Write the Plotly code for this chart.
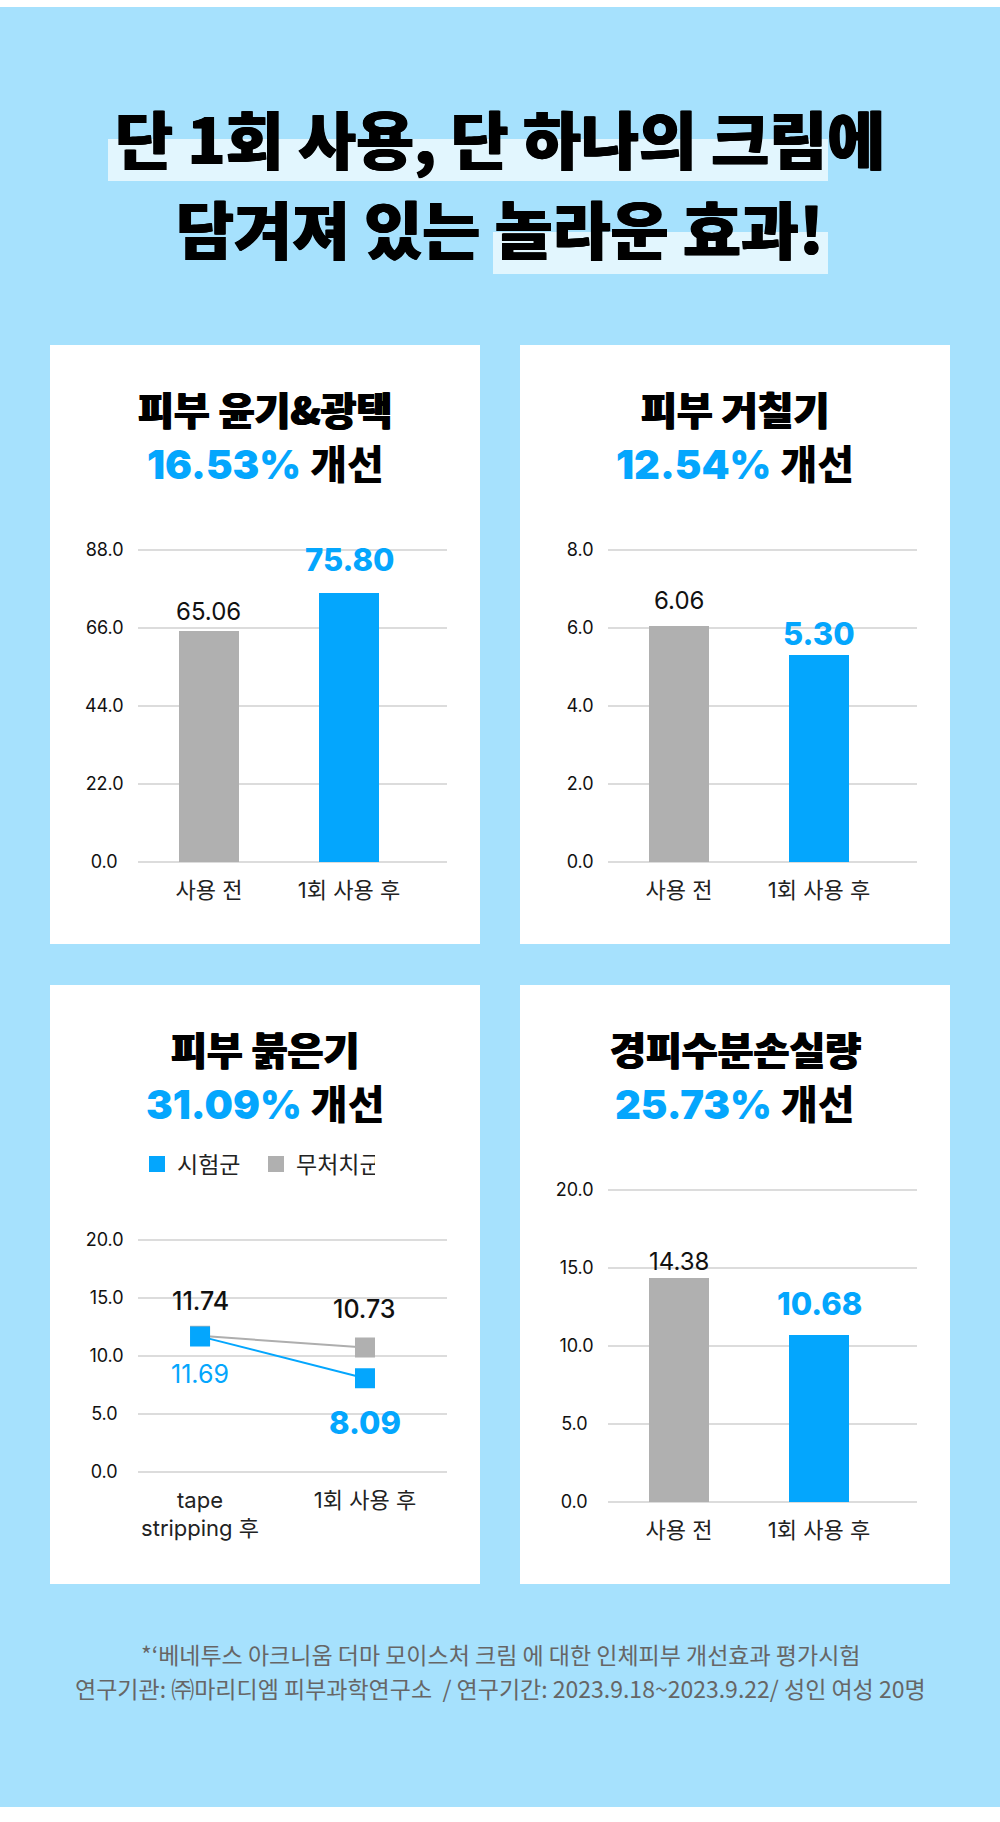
import plotly.graph_objects as go

# ---------------- data ----------------
main_title_1 = "단 1회 사용, 단 하나의 크림에"
main_title_2 = "담겨져 있는 놀라운 효과!"

bar_categories = ["사용 전", "1회 사용 후"]

gloss_title = "피부 윤기&광택"
gloss_improve = "16.53%"
gloss_values = [65.06, 75.80]
gloss_ticks = [0, 22, 44, 66, 88]

rough_title = "피부 거칠기"
rough_improve = "12.54%"
rough_values = [6.06, 5.30]
rough_ticks = [0, 2, 4, 6, 8]

red_title = "피부 붉은기"
red_improve = "31.09%"
red_categories = ["tape<br>stripping 후", "1회 사용 후"]
red_test = [11.69, 8.09]
red_control = [11.74, 10.73]
red_ticks = [0, 5, 10, 15, 20]
red_series_names = ["시험군", "무처치군"]

tewl_title = "경피수분손실량"
tewl_improve = "25.73%"
tewl_values = [14.38, 10.68]
tewl_ticks = [0, 5, 10, 15, 20]

improve_word = "개선"

footnote_1 = "*‘베네투스 아크니움 더마 모이스처 크림 에 대한 인체피부 개선효과 평가시험"
footnote_2 = "연구기관: ㈜마리디엠 피부과학연구소 \u00a0/ 연구기간: 2023.9.18~2023.9.22/ 성인 여성 20명"

# ---------------- style ----------------
W, H = 1000, 1822
BLUE = "#04A6FD"
GREY = "#B0B0B0"
LINE_GREY = "#AEAEAE"
BG = "#A6E1FD"
HILITE = "#E2F6FE"
GRID = "#DCDCDC"
KR = "Noto Sans CJK KR"
NUM = "Inter, Noto Sans CJK KR"
HEAVY = "0.7px 0 0 #000, -0.7px 0 0 #000"


def py(p):
    return 1 - p / H


def tick_texts(ticks):
    labels = [f"{v:.1f}" for v in ticks]
    longest = max(len(s) for s in labels)
    # pad shorter labels so the labels look centred in their column
    return [s + "\u2006\u2006" * (longest - len(s)) for s in labels]


fig = go.Figure()
shapes = []
annotations = []
layout = {}

# background
shapes.append(dict(type="rect", xref="paper", yref="paper", x0=0, x1=1, y0=py(1807), y1=py(7),
                   fillcolor=BG, line_width=0, layer="below"))
# title highlights
shapes.append(dict(type="rect", xref="paper", yref="paper", x0=108 / W, x1=828 / W, y0=py(181), y1=py(139),
                   fillcolor=HILITE, line_width=0, layer="below"))
shapes.append(dict(type="rect", xref="paper", yref="paper", x0=493 / W, x1=828 / W, y0=py(274), y1=py(232),
                   fillcolor=HILITE, line_width=0, layer="below"))

annotations.append(dict(text=main_title_1, x=0.5, y=py(137), xref="paper", yref="paper", showarrow=False,
                        xanchor="center", yanchor="middle",
                        font=dict(family=KR, size=63, color="#000", weight=900, shadow=HEAVY)))
annotations.append(dict(text=main_title_2, x=0.5, y=py(227), xref="paper", yref="paper", showarrow=False,
                        xanchor="center", yanchor="middle",
                        font=dict(family=KR, size=63, color="#000", weight=900, shadow=HEAVY)))

# panels: (xoff, yoff)
panel_off = [(0, 0), (470, 0), (0, 640), (470, 640)]
for xo, yo in panel_off:
    shapes.append(dict(type="rect", xref="paper", yref="paper", x0=(50 + xo) / W, x1=(480 + xo) / W,
                       y0=py(944 + yo), y1=py(345 + yo), fillcolor="white", line_width=0, layer="below"))

titles = [(gloss_title, gloss_improve), (rough_title, rough_improve),
          (red_title, red_improve), (tewl_title, tewl_improve)]
for (t1, t2), (xo, yo) in zip(titles, panel_off):
    cx = (265 + xo) / W
    annotations.append(dict(text=t1, x=cx, y=py(408 + yo), xref="paper", yref="paper", showarrow=False,
                            xanchor="center", yanchor="middle",
                            font=dict(family=KR, size=39, color="#000", weight=900, shadow=HEAVY)))
    annotations.append(dict(
        text=f"<span style='color:{BLUE};font-family:Inter'>{t2}</span> {improve_word}",
        x=cx, y=py(462 + yo), xref="paper", yref="paper", showarrow=False,
        xanchor="center", yanchor="middle",
        font=dict(family=KR, size=40, color="#000", weight=900)))


def add_axes(idx, xoff, zero_px, max_px, ticks, xrange):
    vmax = ticks[-1]
    scale = (zero_px - max_px) / vmax
    pad = vmax * 0.012
    bottom_px = zero_px + pad * scale
    top_px = max_px - pad * scale
    sfx = "" if idx == 1 else str(idx)
    layout[f"xaxis{sfx}"] = dict(
        domain=[(137.7 + xoff) / W, (447.3 + xoff) / W], anchor=f"y{sfx}", range=xrange,
        type="category", showgrid=False, zeroline=False, showline=False, ticks="", automargin=False,
        ticklabelstandoff=10, tickfont=dict(family=NUM, size=22, color="#222"), fixedrange=True)
    layout[f"yaxis{sfx}"] = dict(
        domain=[py(bottom_px), py(top_px)], anchor=f"x{sfx}", range=[-pad, vmax + pad],
        tickvals=ticks, ticktext=tick_texts(ticks), showgrid=True, gridcolor=GRID, gridwidth=2,
        automargin=False, zeroline=False, showline=False, ticks="", ticklabelstandoff=13,
        tickfont=dict(family=NUM, size=18, color="#111"), fixedrange=True)
    return ("x" + sfx, "y" + sfx)


bar_range = [-0.509, 1.702]
# (axis index, x offset, px of 0, px of max, ticks, values, label lift before, label lift after)
bar_panels = [
    (1, 0, 861.7, 550.0, gloss_ticks, gloss_values, 20, 34),
    (2, 470, 861.7, 550.0, rough_ticks, rough_values, 25, 22),
    (4, 470, 1501.7, 1190.0, tewl_ticks, tewl_values, 16, 32),
]
for idx, xo, zp, mp, ticks, vals, lift0, lift1 in bar_panels:
    xr, yr = add_axes(idx, xo, zp, mp, ticks, bar_range)
    fig.add_trace(go.Bar(x=bar_categories, y=vals, marker=dict(color=[GREY, BLUE], line_width=0),
                         width=0.4286, xaxis=xr, yaxis=yr, showlegend=False, hoverinfo="skip"))
    annotations.append(dict(text=f"{vals[0]:.2f}", x=bar_categories[0], y=vals[0], xref=xr, yref=yr,
                            showarrow=False, xanchor="center", yanchor="middle", yshift=lift0,
                            font=dict(family=NUM, size=24, color="#111")))
    annotations.append(dict(text=f"{vals[1]:.2f}", x=bar_categories[1], y=vals[1], xref=xr, yref=yr,
                            showarrow=False, xanchor="center", yanchor="middle", yshift=lift1,
                            font=dict(family=NUM, size=31, color=BLUE, weight=800)))

# line panel
xr, yr = add_axes(3, 0, 1472.0, 1240.0, red_ticks, [-0.378, 1.499])
fig.add_trace(go.Scatter(x=red_categories, y=red_control, mode="lines", line=dict(color=LINE_GREY, width=2),
                         xaxis=xr, yaxis=yr, showlegend=False, hoverinfo="skip"))
fig.add_trace(go.Scatter(x=red_categories, y=red_control, mode="markers", name=red_series_names[1],
                         marker=dict(symbol="square", size=20, color=GREY), legendrank=2,
                         xaxis=xr, yaxis=yr, hoverinfo="skip"))
fig.add_trace(go.Scatter(x=red_categories, y=red_test, mode="lines", line=dict(color=BLUE, width=2),
                         xaxis=xr, yaxis=yr, showlegend=False, hoverinfo="skip"))
fig.add_trace(go.Scatter(x=red_categories, y=red_test, mode="markers", name=red_series_names[0],
                         marker=dict(symbol="square", size=20, color=BLUE), legendrank=1,
                         xaxis=xr, yaxis=yr, hoverinfo="skip"))

ctrl_shift = [35, 39]
test_shift = [-38, -44]
test_fonts = [dict(family=NUM, size=25, color=BLUE),
              dict(family=NUM, size=31, color=BLUE, weight=800)]
for i, c in enumerate(red_categories):
    annotations.append(dict(text=f"{red_control[i]:.2f}", x=c, y=red_control[i], xref=xr, yref=yr,
                            showarrow=False, xanchor="center", yanchor="middle", yshift=ctrl_shift[i],
                            font=dict(family=NUM, size=25, color="#111", weight=500)))
    annotations.append(dict(text=f"{red_test[i]:.2f}", x=c, y=red_test[i], xref=xr, yref=yr,
                            showarrow=False, xanchor="center", yanchor="middle", yshift=test_shift[i],
                            font=test_fonts[i]))

# footer
annotations.append(dict(text=footnote_1, x=0.5, y=py(1654), xref="paper", yref="paper", showarrow=False,
                        xanchor="center", yanchor="middle", font=dict(family=KR, size=23, color="#666")))
annotations.append(dict(text=footnote_2, x=0.5, y=py(1688), xref="paper", yref="paper", showarrow=False,
                        xanchor="center", yanchor="middle", font=dict(family=KR, size=23, color="#666")))

fig.update_layout(
    width=W, height=H, margin=dict(l=0, r=0, t=0, b=0, pad=0, autoexpand=False),
    paper_bgcolor="white", plot_bgcolor="rgba(0,0,0,0)",
    shapes=shapes, annotations=annotations, bargap=0,
    showlegend=True,
    legend=dict(orientation="h", x=137 / W, y=py(1164), xanchor="left", yanchor="middle",
                font=dict(family=KR, size=23, color="#222"), bgcolor="rgba(0,0,0,0)",
                itemclick=False, itemdoubleclick=False, entrywidth=74, entrywidthmode="pixels"),
    **layout,
)

fig.write_html("out.html", config={"displayModeBar": False, "staticPlot": True})
